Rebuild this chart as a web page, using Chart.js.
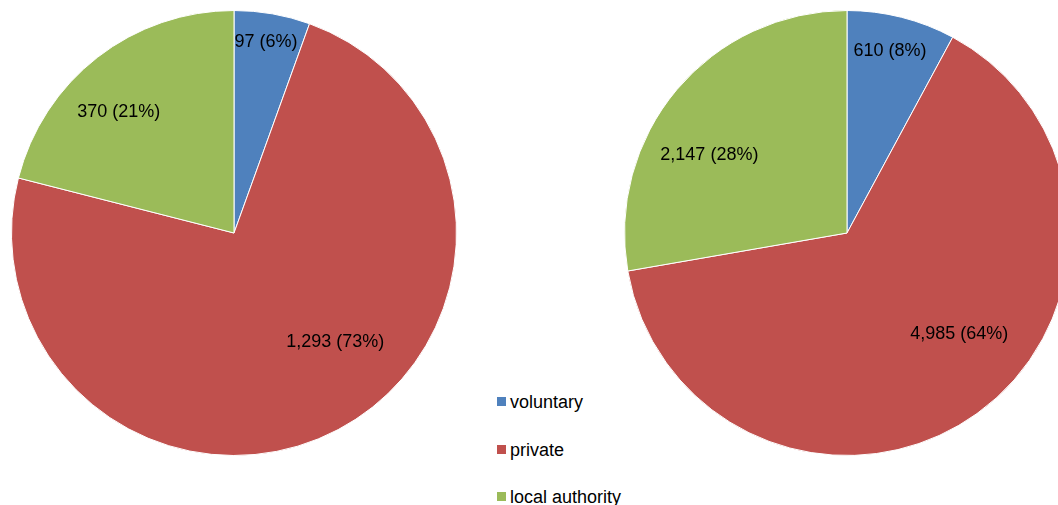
<!DOCTYPE html>
<html>
<head>
<meta charset="utf-8">
<script src="https://cdn.jsdelivr.net/npm/chart.js@4"></script>
<style>
  html, body { margin: 0; padding: 0; background: #fff; overflow: hidden; }
  body { width: 1058px; height: 505px; position: relative; font-family: "Liberation Sans", Arial, sans-serif; }
  #leftPie { position: absolute; left: 11px; top: 10px; }
  #rightPie { position: absolute; left: 624px; top: 10px; }
  #legend { position: absolute; left: 497px; top: 392px; }
  .item { position: absolute; left: 0; height: 20px; white-space: nowrap; font-size: 18px; color: #000; line-height: 20px; }
  .item span.box { position: absolute; left: 0; top: 5px; width: 9px; height: 9px; }
  .item span.txt { position: absolute; left: 13px; top: 0; }
</style>
</head>
<body>
<canvas id="leftPie" width="446" height="446"></canvas>
<canvas id="rightPie" width="446" height="446"></canvas>
<div id="legend"></div>

<script>
const categories = ["voluntary", "private", "local authority"];
const leftValues = [97, 1293, 370];
const rightValues = [610, 4985, 2147];
const colors = ["#4F81BD", "#C0504D", "#9BBB59"];

// label anchors: [degrees clockwise from top, fraction of radius]
const leftLabelPos = [[9.5, 0.87], [137.2, 0.67], [316.3, 0.75]];
const rightLabelPos = [[13.3, 0.84], [132.1, 0.68], [299.4, 0.71]];

const sliceLabels = {
  id: "sliceLabels",
  afterDatasetsDraw(chart, args, opts) {
    const ctx = chart.ctx;
    const data = chart.data.datasets[0].data;
    const total = data.reduce((a, b) => a + b, 0);
    const meta = chart.getDatasetMeta(0);
    ctx.save();
    ctx.font = "18px 'Liberation Sans', Arial, sans-serif";
    ctx.fillStyle = "#000";
    ctx.textAlign = "center";
    ctx.textBaseline = "middle";
    meta.data.forEach((arc, i) => {
      const [deg, frac] = opts.pos[i];
      const a = (deg - 90) * Math.PI / 180;
      const r = arc.outerRadius * frac;
      const x = arc.x + Math.cos(a) * r;
      const y = arc.y + Math.sin(a) * r;
      const pct = Math.round(data[i] / total * 100);
      ctx.fillText(data[i].toLocaleString("en-US") + " (" + pct + "%)", x, y);
    });
    ctx.restore();
  }
};

function makePie(id, values, pos) {
  new Chart(document.getElementById(id), {
    type: "pie",
    data: {
      labels: categories,
      datasets: [{
        data: values,
        backgroundColor: colors,
        borderColor: "#ffffff",
        borderWidth: 1
      }]
    },
    options: {
      responsive: false,
      animation: false,
      layout: { padding: 0 },
      plugins: {
        legend: { display: false },
        tooltip: { enabled: false },
        sliceLabels: { pos: pos }
      }
    },
    plugins: [sliceLabels]
  });
}

makePie("leftPie", leftValues, leftLabelPos);
makePie("rightPie", rightValues, rightLabelPos);

const legend = document.getElementById("legend");
categories.forEach((c, i) => {
  const d = document.createElement("div");
  d.className = "item";
  d.style.top = (i * 47.5) + "px";
  d.innerHTML = '<span class="box" style="background:' + colors[i] + '"></span><span class="txt">' + c + '</span>';
  legend.appendChild(d);
});
</script>
</body>
</html>
